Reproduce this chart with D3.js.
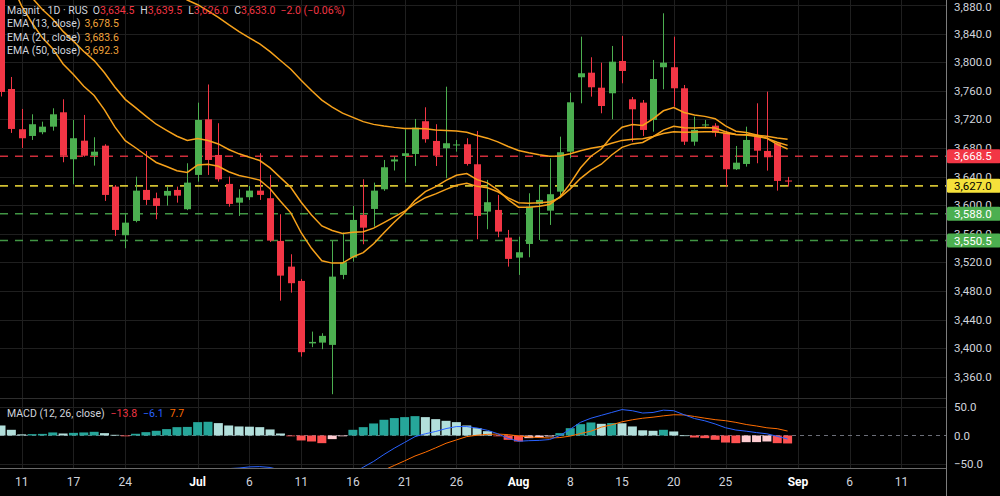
<!DOCTYPE html>
<html>
<head>
<meta charset="utf-8">
<script src="https://cdn.jsdelivr.net/npm/d3@7"></script>
<style>
  html, body { margin: 0; padding: 0; background: #000; }
  svg { display: block; font-family: Roboto, "Liberation Sans", sans-serif; }
</style>
</head>
<body>
<div id="graph"></div>
<script>
// daily candles, index 0 = first bar on the left
const open = [3905, 3762.5, 3706.2, 3696.8, 3702.0, 3709.8, 3729.9, 3664.2, 3690.2, 3669.2, 3683.2, 3625.9, 3557.9, 3577.9, 3621.3, 3609.7, 3613.3, 3621.3, 3594.3, 3642.3, 3720.1, 3670.2, 3629.7, 3603.5, 3611.1, 3620.3, 3609.7, 3550.0, 3514.0, 3494.0, 3406.6, 3407.7, 3404.5, 3502.4, 3526.6, 3586.3, 3594.7, 3622.2, 3661.1, 3668.8, 3671.6, 3717.4, 3689.8, 3679.6, 3683.5, 3685.2, 3657.2, 3591.0, 3593.3, 3554.6, 3526.6, 3545.7, 3601.7, 3592.3, 3618.9, 3674.8, 3778.9, 3785.3, 3764.3, 3756.5, 3801.7, 3748.1, 3743.4, 3719.2, 3792.9, 3792.9, 3763.5, 3688.8, 3711.5, 3711.2, 3701.4, 3650.2, 3657.6, 3695.8, 3675.8, 3686.6, 3634.5];
const high = [3915, 3779.3, 3734.6, 3727.1, 3716.8, 3735.5, 3748.1, 3719.2, 3726.2, 3695.0, 3685.2, 3628.0, 3587.3, 3639.9, 3675.8, 3617.5, 3625.9, 3625.9, 3658.6, 3743.4, 3768.8, 3714.6, 3639.9, 3622.2, 3626.9, 3672.6, 3642.3, 3587.3, 3531.3, 3496.8, 3423.1, 3420.8, 3549.9, 3561.6, 3598.9, 3636.2, 3631.5, 3663.2, 3667.8, 3706.2, 3720.6, 3736.9, 3713.2, 3765.7, 3691.2, 3693.6, 3703.8, 3635.3, 3614.3, 3565.3, 3555.9, 3616.6, 3628.3, 3665.6, 3695.8, 3757.3, 3835.7, 3806.9, 3799.3, 3822.7, 3836.7, 3751.3, 3747.1, 3803.1, 3868.4, 3835.7, 3768.1, 3723.8, 3719.2, 3714.6, 3703.8, 3682.8, 3709.8, 3742.5, 3758.8, 3687.0, 3639.5];
const low = [3752, 3701.0, 3680.0, 3691.2, 3699.2, 3704.2, 3660.0, 3629.2, 3667.8, 3655.3, 3605.9, 3556.9, 3539.7, 3576.0, 3600.3, 3580.3, 3599.3, 3603.5, 3593.0, 3632.9, 3642.3, 3632.9, 3597.9, 3584.9, 3607.3, 3607.3, 3548.5, 3466.4, 3477.6, 3388.1, 3401.3, 3398.5, 3335.5, 3496.4, 3521.0, 3545.3, 3569.9, 3620.0, 3648.5, 3631.5, 3654.8, 3687.4, 3654.8, 3637.6, 3674.8, 3655.3, 3552.3, 3566.3, 3555.1, 3514.0, 3502.4, 3527.1, 3551.3, 3572.3, 3611.9, 3665.6, 3742.5, 3751.8, 3728.5, 3720.1, 3770.5, 3688.8, 3696.8, 3702.8, 3762.1, 3737.8, 3684.2, 3683.2, 3707.6, 3695.8, 3625.9, 3649.2, 3653.9, 3658.6, 3648.3, 3620.3, 3626.0];
const close = [3758.3, 3706.6, 3693.6, 3713.2, 3709.8, 3727.1, 3669.2, 3693.6, 3669.2, 3674.8, 3614.3, 3565.3, 3575.5, 3620.3, 3607.3, 3598.9, 3619.9, 3613.3, 3631.5, 3719.2, 3663.2, 3636.2, 3601.7, 3610.5, 3620.3, 3614.3, 3550.4, 3501.4, 3490.8, 3394.3, 3408.7, 3417.1, 3500.0, 3520.1, 3579.3, 3568.5, 3620.3, 3653.0, 3663.9, 3672.6, 3708.4, 3692.2, 3669.2, 3686.6, 3684.9, 3657.6, 3584.9, 3604.1, 3563.0, 3524.8, 3534.1, 3597.9, 3607.3, 3615.3, 3674.0, 3743.9, 3784.5, 3764.9, 3738.7, 3800.7, 3787.7, 3734.1, 3705.2, 3776.5, 3799.3, 3763.5, 3688.8, 3705.2, 3712.9, 3701.4, 3650.2, 3659.4, 3691.2, 3676.2, 3667.0, 3633.9, 3633.0];

const ema13 = [3942.9, 3909.2, 3878.5, 3854.8, 3834.1, 3818.9, 3797.5, 3782.7, 3766.4, 3753.3, 3733.4, 3709.4, 3690.2, 3680.3, 3669.8, 3659.7, 3654.0, 3648.1, 3645.7, 3656.2, 3657.2, 3654.3, 3646.7, 3641.5, 3638.5, 3635.0, 3622.9, 3605.6, 3589.2, 3561.4, 3539.6, 3522.1, 3518.9, 3519.0, 3527.7, 3533.6, 3546.0, 3561.3, 3576.0, 3589.8, 3606.7, 3618.9, 3626.0, 3634.7, 3641.8, 3644.1, 3635.7, 3631.2, 3621.4, 3607.6, 3597.1, 3597.2, 3598.6, 3601.0, 3611.5, 3630.4, 3652.3, 3668.4, 3678.5, 3696.0, 3709.1, 3712.7, 3711.6, 3720.8, 3732.0, 3736.5, 3729.7, 3726.2, 3724.2, 3721.0, 3710.9, 3703.5, 3701.7, 3698.0, 3693.6, 3685.0, 3678.5];
const ema21 = [3951.3, 3929.1, 3907.7, 3890.1, 3873.7, 3860.4, 3843.1, 3829.5, 3815.0, 3802.2, 3785.2, 3765.2, 3748.0, 3736.4, 3724.6, 3713.2, 3704.6, 3696.4, 3690.5, 3693.2, 3690.5, 3685.6, 3677.9, 3671.8, 3667.1, 3662.4, 3652.2, 3638.5, 3625.0, 3604.1, 3586.3, 3570.9, 3564.5, 3560.4, 3562.1, 3562.7, 3567.8, 3575.5, 3583.5, 3591.6, 3602.2, 3610.4, 3615.7, 3622.1, 3627.8, 3630.5, 3626.3, 3624.3, 3618.7, 3610.2, 3603.4, 3602.8, 3603.2, 3604.3, 3610.6, 3622.8, 3637.5, 3649.1, 3657.2, 3670.2, 3680.8, 3685.7, 3687.6, 3695.7, 3705.0, 3710.4, 3708.4, 3708.1, 3708.5, 3707.8, 3702.7, 3698.7, 3698.0, 3696.1, 3693.4, 3688.0, 3683.6];
// EMA 50 is above the visible range before bar 17
const ema50 = [null, null, null, null, null, null, null, null, null, null, null, null, null, null, null, null, null, 3895.4, 3887.0, 3880.4, 3871.9, 3862.7, 3852.5, 3842.9, 3834.1, 3825.5, 3814.7, 3802.4, 3790.2, 3774.7, 3760.3, 3746.9, 3737.2, 3728.7, 3722.8, 3716.8, 3713.0, 3710.6, 3708.8, 3707.4, 3707.4, 3706.9, 3705.3, 3704.6, 3703.8, 3702.0, 3697.4, 3693.7, 3688.5, 3682.1, 3676.4, 3673.3, 3670.6, 3668.5, 3668.8, 3671.8, 3676.2, 3679.7, 3682.1, 3686.7, 3690.6, 3692.3, 3692.9, 3696.1, 3700.1, 3702.7, 3702.1, 3702.2, 3702.7, 3702.7, 3700.6, 3698.9, 3698.6, 3697.8, 3696.5, 3694.1, 3692.3];

const macd = [-70, -74, -77, -78, -78, -76, -77, -76, -75, -74, -75, -78, -80, -78, -76, -73, -70, -66, -62, -60, -59, -58, -57.5, -56.5, -54.5, -54.0, -55.5, -60, -67, -77, -84, -90, -87, -82, -66, -55, -45, -33, -22, -12, -2, 3, 7, 12, 15.5, 15.5, 13, 9, 3, -5, -10, -9, -8.5, -7, 0, 11, 23, 30, 35, 40, 45, 43, 39, 40, 44, 43, 36, 29.5, 25.5, 20, 13.5, 9.5, 7.5, 5, 3, -1.5, -6.1];
const signal = [-88, -86, -84, -83, -82, -81.5, -81, -80.5, -80, -80, -79.5, -79.5, -79.5, -80, -80.5, -81, -81, -80.5, -79, -77, -75.5, -74, -72.5, -71.5, -70, -69, -67, -65.5, -66, -68, -72, -76.5, -80, -81, -76, -70, -66, -60, -52, -44, -35.6, -29, -21.4, -13.5, -7.7, -1.9, 0.5, 2.0, 2.5, 1.5, -0.8, -2.5, -3.6, -4.3, -3.6, -1.0, 3.5, 7.5, 14.5, 18.5, 23.8, 27.3, 30, 31.8, 34.1, 36, 35.7, 33, 30.1, 27.5, 25.7, 22.8, 19.1, 16.5, 13.4, 11.8, 7.7];
const hist = [17.4, 9.9, 2.0, 2.4, 2.8, 5.3, 3.5, 4.6, 5.3, 6.4, 4.1, 1.2, -1.1, 3.0, 5.8, 8.2, 11.1, 14.5, 14.9, 23.2, 23.8, 21.5, 17.4, 15.7, 15.3, 14.5, 10.5, 3.5, -0.5, -8.6, -10.4, -13.3, -6.3, -0.8, 9.9, 14.5, 20.9, 27.3, 30.2, 31.9, 33.6, 31.9, 28.4, 25.5, 23.2, 17.4, 12.8, 7.5, -1.2, -7.5, -10.4, -4.6, -3.5, -1.7, 4.1, 12.7, 19.7, 22.6, 20.3, 21.6, 21.2, 15.7, 9.0, 8.2, 9.9, 7.0, 0.3, -3.5, -4.6, -7.5, -12.2, -13.3, -11.6, -11.5, -10.4, -13.3, -13.8];

// axes
const time_ticks = [2, 7, 12, 19, 24, 29, 34, 39, 44, 50, 55, 60, 65, 70, 77, 82, 87];
const time_labels = ["11", "17", "24", "Jul", "6", "11", "16", "21", "26", "Aug", "8", "15", "20", "25", "Sep", "6", "11"];
const price_ticks = [3360, 3400, 3440, 3480, 3520, 3560, 3600, 3640, 3680, 3720, 3760, 3800, 3840, 3880];
const macd_ticks = [50, 0, -50];

// horizontal levels drawn on the chart
const levels = [3668.5, 3627.0, 3588.0, 3550.5];
const level_colors = ["#f23645", "#f5e13b", "#4caf50", "#4caf50"];
const level_text = ["#fff", "#000", "#fff", "#fff"];

const width = 1000;
const height = 496;
const axis_x = 946.5;
const price_bottom = 398;
const macd_top = 398.5;
const macd_bottom = 468;

const up = "#4caf50", down = "#f23645", ema_color = "#f7a21b";
const fmt = d3.format(",.1f");

let svg = d3.select("#graph").append("svg")
  .attr("width", width)
  .attr("height", height);

svg.append("rect").attr("width", width).attr("height", height).attr("fill", "#000");

let defs = svg.append("defs");
defs.append("clipPath").attr("id", "clip_price")
  .append("rect").attr("x", 0).attr("y", 0).attr("width", axis_x).attr("height", price_bottom);
defs.append("clipPath").attr("id", "clip_macd")
  .append("rect").attr("x", 0).attr("y", macd_top).attr("width", axis_x).attr("height", macd_bottom - macd_top);

let x = d3.scaleLinear().domain([0, 87]).range([1, 901.45]);
let y = d3.scaleLinear().domain([3360, 3880]).range([376.7, 5]);
let ym = d3.scaleLinear().domain([-50, 50]).range([464.3, 406.7]);

// grid
let grid = svg.append("g").attr("stroke", "#1f1f1f").attr("stroke-width", 1);
grid.selectAll(".vgrid").data(time_ticks).enter().append("line")
  .attr("x1", d => Math.round(x(d)) + 0.5).attr("x2", d => Math.round(x(d)) + 0.5)
  .attr("y1", 0).attr("y2", macd_bottom);
grid.selectAll(".hgrid").data(price_ticks).enter().append("line")
  .attr("x1", 0).attr("x2", axis_x)
  .attr("y1", d => Math.round(y(d)) + 0.5).attr("y2", d => Math.round(y(d)) + 0.5);
grid.selectAll(".mgrid").data([50, -50]).enter().append("line")
  .attr("x1", 0).attr("x2", axis_x)
  .attr("y1", d => Math.round(ym(d)) + 0.5).attr("y2", d => Math.round(ym(d)) + 0.5);

// price pane
let price = svg.append("g").attr("clip-path", "url(#clip_price)");

price.selectAll(".level").data(levels).enter().append("line")
  .attr("x1", 0).attr("x2", axis_x)
  .attr("y1", d => y(d)).attr("y2", d => y(d))
  .attr("stroke", (d, i) => level_colors[i])
  .attr("stroke-opacity", 0.85)
  .attr("stroke-width", 1.6)
  .attr("stroke-dasharray", "8,7");

let candles = price.selectAll(".candle").data(open.map((o, i) => i)).enter().append("g");
candles.append("line")
  .attr("x1", i => Math.round(x(i)) + 0.5).attr("x2", i => Math.round(x(i)) + 0.5)
  .attr("y1", i => y(high[i])).attr("y2", i => y(low[i]))
  .attr("stroke", i => close[i] >= open[i] ? up : down)
  .attr("stroke-width", 1);
candles.append("rect")
  .attr("x", i => Math.round(x(i)) + 0.5 - 3.5)
  .attr("width", 7)
  .attr("y", i => Math.min(y(open[i]), y(close[i])))
  .attr("height", i => Math.max(1, Math.abs(y(open[i]) - y(close[i]))))
  .attr("fill", i => close[i] >= open[i] ? up : down);

let line = d3.line()
  .defined(d => d != null)
  .x((d, i) => x(i))
  .y(d => y(d));
[ema50, ema21, ema13].forEach(s => {
  price.append("path").datum(s)
    .attr("d", line)
    .attr("fill", "none")
    .attr("stroke", ema_color)
    .attr("stroke-width", 1.5);
});

// macd pane
let mpane = svg.append("g").attr("clip-path", "url(#clip_macd)");
mpane.append("line")
  .attr("x1", 0).attr("x2", axis_x)
  .attr("y1", ym(0)).attr("y2", ym(0))
  .attr("stroke", "#6b6e78").attr("stroke-dasharray", "4,4");

mpane.selectAll(".hist").data(hist).enter().append("rect")
  .attr("x", (d, i) => x(i) - 4.5)
  .attr("width", 9)
  .attr("y", d => Math.min(ym(0), ym(d)))
  .attr("height", d => Math.max(0.8, Math.abs(ym(d) - ym(0))))
  .attr("fill", (d, i) => {
    const prev = i > 0 ? hist[i - 1] : Infinity;
    if (d >= 0) return prev < d ? "#26a69a" : "#b2dfdb";
    return prev < d ? "#ffcdd2" : "#ff5252";
  });

let mline = d3.line().x((d, i) => x(i)).y(d => ym(d));
mpane.append("path").datum(signal).attr("d", mline)
  .attr("fill", "none").attr("stroke", "#ff6d00").attr("stroke-width", 1);
mpane.append("path").datum(macd).attr("d", mline)
  .attr("fill", "none").attr("stroke", "#2962ff").attr("stroke-width", 1);

// frame lines
svg.append("line").attr("x1", 0).attr("x2", axis_x).attr("y1", 398.5).attr("y2", 398.5)
  .attr("stroke", "#2e2e2e");
svg.append("line").attr("x1", 0).attr("x2", axis_x).attr("y1", 468.5).attr("y2", 468.5)
  .attr("stroke", "#6a6a6a");
svg.append("line").attr("x1", axis_x).attr("x2", axis_x).attr("y1", 0).attr("y2", height)
  .attr("stroke", "#7d7d7d");

// price axis (the top label is kept inside the window)
svg.append("g").selectAll("text").data(price_ticks).enter().append("text")
  .attr("x", 954).attr("y", d => Math.max(11, y(d) + 4))
  .attr("fill", "#d1d4dc").style("font-size", "11.5px")
  .text(d => fmt(d));

let tags = svg.append("g").selectAll("g").data(levels).enter().append("g");
tags.append("rect")
  .attr("x", axis_x + 0.5).attr("width", width - axis_x)
  .attr("y", d => y(d) - 7).attr("height", 14)
  .attr("rx", 1.5)
  .attr("fill", (d, i) => level_colors[i]);
tags.append("text")
  .attr("x", 954).attr("y", d => y(d) + 4)
  .attr("fill", (d, i) => level_text[i]).style("font-size", "11.5px")
  .text(d => fmt(d));

// macd axis
svg.append("g").selectAll("text").data(macd_ticks).enter().append("text")
  .attr("x", 954).attr("y", d => ym(d) + 4)
  .attr("fill", "#d1d4dc").style("font-size", "11.5px")
  .text(d => d3.format(".1f")(d).replace("-", "\u2212"));

// time axis
svg.append("g").selectAll("text").data(time_ticks).enter().append("text")
  .attr("x", d => x(d)).attr("y", 486)
  .attr("text-anchor", "middle")
  .attr("fill", (d, i) => isNaN(+time_labels[i]) ? "#ffffff" : "#d1d4dc")
  .style("font-size", "12px")
  .style("font-weight", (d, i) => isNaN(+time_labels[i]) ? "bold" : "normal")
  .text((d, i) => time_labels[i]);

// legends
let legend = svg.append("g").style("font-size", "10.5px");
let row1 = legend.append("text").attr("x", 7).attr("y", 14).attr("fill", "#d1d4dc");
row1.append("tspan").text("Magnit \u00b7 1D \u00b7 RUS");
[["O", open[76]], ["H", high[76]], ["L", low[76]], ["C", close[76]]].forEach((p, k) => {
  row1.append("tspan").attr("dx", k === 0 ? 5 : 6).text(p[0]);
  row1.append("tspan").attr("fill", down).text(fmt(p[1]));
});
row1.append("tspan").attr("dx", 5).attr("fill", down).text("\u22122.0 (\u22120.06%)");

[["EMA (13, close)", ema13[76]], ["EMA (21, close)", ema21[76]], ["EMA (50, close)", ema50[76]]].forEach((r, k) => {
  let t = legend.append("text").attr("x", 7).attr("y", 27 + k * 13.5).attr("fill", "#d1d4dc");
  t.append("tspan").text(r[0]);
  t.append("tspan").attr("dx", 4).attr("fill", "#f0a23a").text(fmt(r[1]));
});

let mleg = legend.append("text").attr("x", 7).attr("y", 417).attr("fill", "#d1d4dc");
mleg.append("tspan").text("MACD (12, 26, close)");
mleg.append("tspan").attr("dx", 6).attr("fill", "#f23645").text("\u2212" + Math.abs(hist[76]).toFixed(1));
mleg.append("tspan").attr("dx", 6).attr("fill", "#2962ff").text("\u2212" + Math.abs(macd[76]).toFixed(1));
mleg.append("tspan").attr("dx", 6).attr("fill", "#ff6d00").text(signal[76].toFixed(1));
</script>
</body>
</html>
